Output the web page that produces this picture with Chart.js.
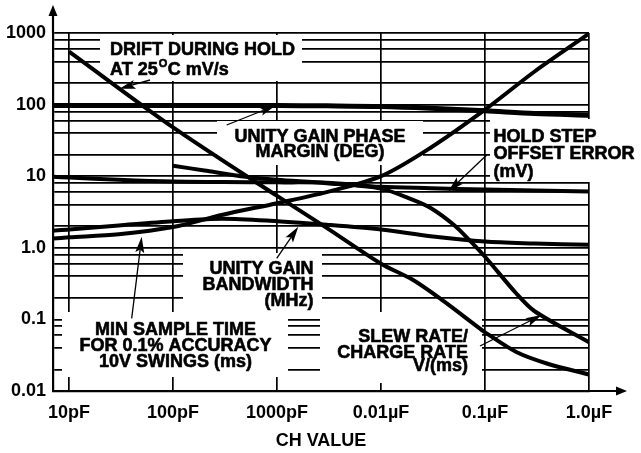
<!DOCTYPE html>
<html>
<head>
<meta charset="utf-8">
<script src="https://cdn.jsdelivr.net/npm/chart.js@4.4.0/dist/chart.umd.min.js"></script>
<style>
body{margin:0;background:#fff;}
</style>
</head>
<body>
<canvas id="ch-chart" width="641" height="453"></canvas>
<script>
// CH values in pF
const capMain = [7, 10, 30, 100, 300, 1000, 3000, 10000, 30000, 100000, 300000, 1000000];
const phaseMargin = [97, 97, 97, 97, 97, 97, 96, 94, 89, 82, 75, 71];
const holdStep   = [9.8, 9.6, 8.9, 8.4, 8.3, 8.2, 8.1, 7.1, 6.8, 6.5, 6.3, 6.1];
const minSample  = [1.35, 1.4, 1.55, 1.95, 2.9, 4.2, 6.0, 10, 25, 85, 290, 980];
const bandwidth  = [1.75, 1.8, 2.05, 2.35, 2.55, 2.35, 2.1, 1.8, 1.45, 1.22, 1.15, 1.1];

const capDrift = [10, 100, 1000, 3000, 10000, 20000, 40000, 80000, 100000, 200000, 400000, 1000000];
const drift    = [550, 48, 5.3, 1.9, 0.6, 0.36, 0.18, 0.084, 0.066, 0.035, 0.024, 0.017];

const capSlew = [100, 200, 500, 1000, 3000, 10000, 20000, 30000, 50000, 70000, 100000, 200000, 300000, 1000000];
const slew    = [14, 12, 9.8, 8.9, 8.0, 6.7, 4.7, 3.6, 2.1, 1.3, 0.75, 0.23, 0.13, 0.048];

const xTicks = [10, 100, 1000, 10000, 100000, 1000000];
const xTickLabels = ['10pF', '100pF', '1000pF', '0.01\u00b5F', '0.1\u00b5F', '1.0\u00b5F'];
const yTicks = [0.01, 0.1, 1, 10, 100, 1000];
const yTickLabels = ['0.01', '0.1', '1.0', '10', '100', '1000'];
const yMinor = [2, 4, 6, 8];

const FONT = '"Liberation Sans", Arial, Helvetica, sans-serif';

function pts(xs, ys){ return xs.map((x,i)=>({x:x, y:ys[i]})); }

function curve(data, w){
  return {
    data: data,
    borderColor: '#000',
    borderWidth: w || 4,
    pointRadius: 0,
    fill: false,
    tension: 0.3
  };
}

// white patches behind the labels (they cut the grid like in the print)
const patches = [
  [100, 35, 202, 46],
  [217, 121, 206, 44],
  [490, 119, 151, 63],
  [183, 253, 139, 63],
  [62, 312, 226, 65],
  [320, 312, 162, 71]
];

function arrow(ctx, x0, y0, x1, y1){
  const a = Math.atan2(y1-y0, x1-x0);
  const L = 16, W = 4.5;
  ctx.beginPath();
  ctx.moveTo(x0, y0);
  ctx.lineTo(x1 - Math.cos(a)*L*0.8, y1 - Math.sin(a)*L*0.8);
  ctx.lineWidth = 1.3;
  ctx.stroke();
  ctx.beginPath();
  ctx.moveTo(x1, y1);
  ctx.lineTo(x1 - Math.cos(a)*L - Math.sin(a)*W, y1 - Math.sin(a)*L + Math.cos(a)*W);
  ctx.lineTo(x1 - Math.cos(a)*L*0.8, y1 - Math.sin(a)*L*0.8);
  ctx.lineTo(x1 - Math.cos(a)*L + Math.sin(a)*W, y1 - Math.sin(a)*L - Math.cos(a)*W);
  ctx.closePath();
  ctx.fill();
}

function text(ctx, s, x, y){
  ctx.fillText(s, x, y);
  ctx.strokeText(s, x, y);
}

function lines(ctx, txt, x, ys, align){
  ctx.textAlign = align;
  for(let i=0;i<txt.length;i++) text(ctx, txt[i], x, ys[i]);
}

const overlay = {
  id: 'overlay',
  beforeDatasetsDraw(chart){
    const ctx = chart.ctx;
    ctx.save();
    ctx.fillStyle = '#fff';
    patches.forEach(p => ctx.fillRect(p[0], p[1], p[2], p[3]));
    ctx.restore();
  },
  afterDatasetsDraw(chart){
    const ctx = chart.ctx;
    const a = chart.chartArea;
    ctx.save();
    ctx.fillStyle = '#000';
    ctx.strokeStyle = '#000';
    // axis arrows
    ctx.lineWidth = 2.2;
    ctx.beginPath();
    ctx.moveTo(a.left, a.top); ctx.lineTo(a.left, 15);
    ctx.moveTo(a.right, a.bottom); ctx.lineTo(617, a.bottom);
    ctx.stroke();
    ctx.beginPath();
    ctx.moveTo(a.left, 5); ctx.lineTo(a.left-4.5, 16); ctx.lineTo(a.left+4.5, 16); ctx.closePath(); ctx.fill();
    ctx.beginPath();
    ctx.moveTo(627, a.bottom); ctx.lineTo(616, a.bottom-4.5); ctx.lineTo(616, a.bottom+4.5); ctx.closePath(); ctx.fill();

    ctx.font = 'bold 18px ' + FONT;
    ctx.textBaseline = 'alphabetic';
    ctx.lineWidth = 0.6;
    ctx.lineJoin = 'round';
    lines(ctx, ['DRIFT DURING HOLD'], 110, [54.5], 'left');
    ctx.textAlign = 'left';
    const s1 = 'AT 25';
    text(ctx, s1, 110, 74.5);
    const w1 = ctx.measureText(s1).width;
    ctx.font = 'bold 11px ' + FONT;
    text(ctx, 'O', 110 + w1 + 1, 66.5);
    const w2 = ctx.measureText('O').width;
    ctx.font = 'bold 18px ' + FONT;
    text(ctx, 'C mV/s', 110 + w1 + w2 + 1.5, 74.5);

    lines(ctx, ['UNITY GAIN PHASE', 'MARGIN (DEG)'], 320, [141.7, 157.3], 'center');
    lines(ctx, ['HOLD STEP', 'OFFSET ERROR', '(mV)'], 493.5, [141.5, 159, 176.5], 'left');
    lines(ctx, ['UNITY GAIN', 'BANDWIDTH', '(MHz)'], 313.5, [274, 290, 306], 'right');
    lines(ctx, ['MIN SAMPLE TIME', 'FOR 0.1% ACCURACY', '10V SWINGS (ms)'], 175.5, [335, 350.7, 366.5], 'center');
    lines(ctx, ['SLEW RATE/', 'CHARGE RATE', 'V/(ms)'], 468, [341.7, 357.5, 371], 'right');

    arrow(ctx, 150, 80, 119.5, 88.7);
    arrow(ctx, 226.7, 125, 275.5, 105.5);
    arrow(ctx, 486.7, 155, 448.3, 191.5);
    arrow(ctx, 276.7, 258.3, 298.3, 226.7);
    arrow(ctx, 131.7, 318.3, 141.7, 236.7);
    arrow(ctx, 480, 346, 541.7, 315);
    ctx.restore();
  }
};

new Chart(document.getElementById('ch-chart'), {
  type: 'line',
  data: {
    datasets: [
      curve(pts(capMain, phaseMargin), 5),
      curve(pts(capMain, holdStep)),
      curve(pts(capMain, minSample)),
      curve(pts(capMain, bandwidth)),
      curve(pts(capDrift, drift)),
      curve(pts(capSlew, slew))
    ]
  },
  options: {
    responsive: false,
    animation: false,
    layout: { padding: { left: 0, top: 33, right: 52, bottom: 0 } },
    plugins: { legend: { display: false }, tooltip: { enabled: false } },
    scales: {
      x: {
        type: 'logarithmic',
        min: 7,
        max: 1000000,
        afterBuildTicks: (s) => { s.ticks = xTicks.map(v => ({ value: v })); },
        afterFit: (s) => { s.height = 62; },
        grid: { color: '#000', lineWidth: 1.7, drawTicks: false },
        border: { color: '#000', width: 2.2 },
        ticks: {
          autoSkip: false, maxRotation: 0, padding: 11, color: '#000',
          font: { family: FONT, size: 18, weight: 'bold' },
          callback: (v) => { const i = xTicks.indexOf(v); return i >= 0 ? xTickLabels[i] : ''; }
        },
        title: {
          display: true, text: 'CH VALUE', color: '#000',
          font: { family: FONT, size: 18, weight: 'bold' },
          padding: { top: 0, bottom: 1 }
        }
      },
      y: {
        type: 'logarithmic',
        min: 0.01,
        max: 1000,
        afterBuildTicks: (s) => {
          const t = [];
          yTicks.forEach((d, i) => {
            t.push({ value: d });
            if (i < yTicks.length - 1) yMinor.forEach(m => t.push({ value: d * m }));
          });
          s.ticks = t;
        },
        afterFit: (s) => { s.width = 53; },
        grid: { color: '#000', lineWidth: 1.7, drawTicks: false },
        border: { color: '#000', width: 2.2 },
        ticks: {
          autoSkip: false, padding: 7, color: '#000',
          font: { family: FONT, size: 18, weight: 'bold' },
          callback: (v) => { const i = yTicks.indexOf(v); return i >= 0 ? yTickLabels[i] : ''; }
        }
      }
    }
  },
  plugins: [overlay]
});
</script>
</body>
</html>
